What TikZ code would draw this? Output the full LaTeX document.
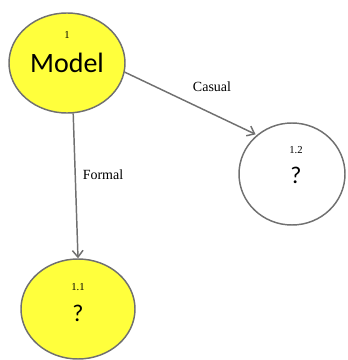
\documentclass[tikz,border=0pt]{standalone}
\usepackage{fontspec}
\setmainfont{Liberation Serif}
\newfontfamily\calib{Carlito}
\usetikzlibrary{shapes.geometric,arrows.meta}
\definecolor{edgegray}{RGB}{112,112,112}
\definecolor{nodeyellow}{RGB}{255,255,60}
\tikzset{
  topic/.style={ellipse, draw=edgegray, line width=1.1pt, inner sep=0pt},
  bigtext/.style={font=\calib\fontsize{21}{24}\selectfont, inner sep=0pt},
  qtext/.style={font=\calib\fontsize{18}{21}\selectfont, inner sep=0pt},
  numtext/.style={font=\fontsize{8}{9}\selectfont, inner sep=0pt},
  linktext/.style={font=\fontsize{10.5}{12}\selectfont, inner sep=0pt},
  link/.style={draw=edgegray, line width=1.1pt, -{Straight Barb[length=5pt,width=8pt]}},
}
\begin{document}
\begin{tikzpicture}[x=0.75pt,y=0.75pt,yscale=-1,xscale=1]
\useasboundingbox (0,0) rectangle (348,360);

%Shape: Ellipse [id:model]
\draw (67,63) node [topic, fill=nodeyellow, minimum width=87pt, minimum height=75pt] (model) {};
%Shape: Ellipse [id:formal]
\draw (78,309) node [topic, fill=nodeyellow, minimum width=85.5pt, minimum height=75pt] (q11) {};
%Shape: Ellipse [id:casual]
\draw (292,174) node [topic, fill=white, minimum width=79.5pt, minimum height=76.5pt] (q12) {};

%Straight Lines [id:toformal]
\draw [link] (model.-83) -- (q11.north) ;
%Straight Lines [id:tocasual]
\draw [link, shorten >=1pt] (model.-9) -- (q12.132) ;

% Text Node
\draw (67,35) node [numtext] (n1) {1};
% Text Node
\draw (67,63) node [bigtext] (t1) {Model};
% Text Node
\draw (78,287) node [numtext] (n11) {1.1};
% Text Node
\draw (78,313) node [qtext] (t11) {?};
% Text Node
\draw (296,150) node [numtext] (n12) {1.2};
% Text Node
\draw (296,175) node [qtext] (t12) {?};
% Text Node
\draw (212,87) node [linktext] (casual) {Casual};
% Text Node
\draw (103,175) node [linktext] (formal) {Formal};

\end{tikzpicture}
\end{document}
